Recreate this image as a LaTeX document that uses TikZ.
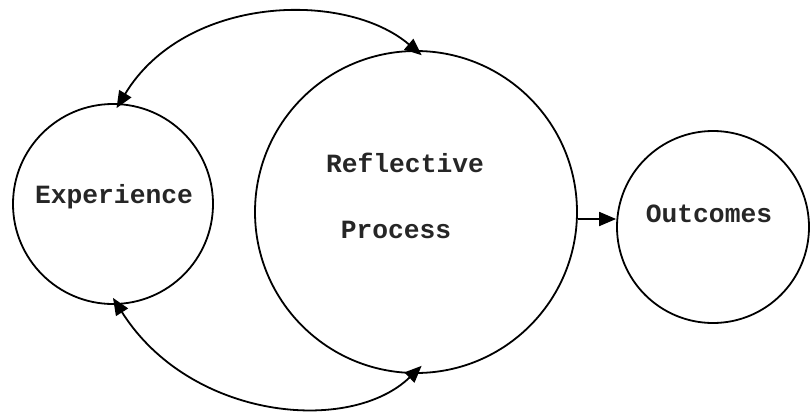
\documentclass[tikz,border=0pt]{standalone}
\usepackage{fontspec}
\setmonofont{Liberation Mono}
\usetikzlibrary{arrows.meta}
\tikzset{
  ring/.style={draw, circle, line width=1.8pt, inner sep=0pt},
  lbl/.style={font=\ttfamily\bfseries\fontsize{26.3}{30}\selectfont, text=black!85, inner sep=0pt, anchor=base},
  conn/.style={line width=1.8pt, {Triangle[length=17pt,width=14pt]}-{Triangle[length=17pt,width=14pt]}},
  oneway/.style={line width=1.8pt, -{Triangle[length=17pt,width=14pt]}}
}
\begin{document}
\begin{tikzpicture}[x=1pt,y=-1pt]
\useasboundingbox (0,0) rectangle (811,413);
\node[ring, minimum size=200pt] (exp) at (113,204) {};
\node[ring, minimum size=322pt] (ref) at (416,212) {};
\node[ring, minimum size=192pt] (out) at (713,227) {};
\node[lbl] (t1) at (114,203) {Experience};
\node[lbl] (t2) at (405,172) {Reflective};
\node[lbl] (t3) at (396,238) {Process};
\node[lbl] (t4) at (709,222) {Outcomes};
\coordinate (a1) at ([yshift=-5pt]exp.88);
\coordinate (a2) at ([yshift=-5pt]ref.88);
\coordinate (b1) at ([yshift=7pt]exp.south);
\coordinate (b2) at ([yshift=8pt]ref.-88);
\draw[conn] (a1) .. controls (185,-5) and (345,-10) .. (a2);
\draw[conn] (b1) .. controls (190,420) and (350,435) .. (b2);
\draw[oneway] (ref.east |- 0,219) -- (out.west |- 0,219);
\end{tikzpicture}
\end{document}
